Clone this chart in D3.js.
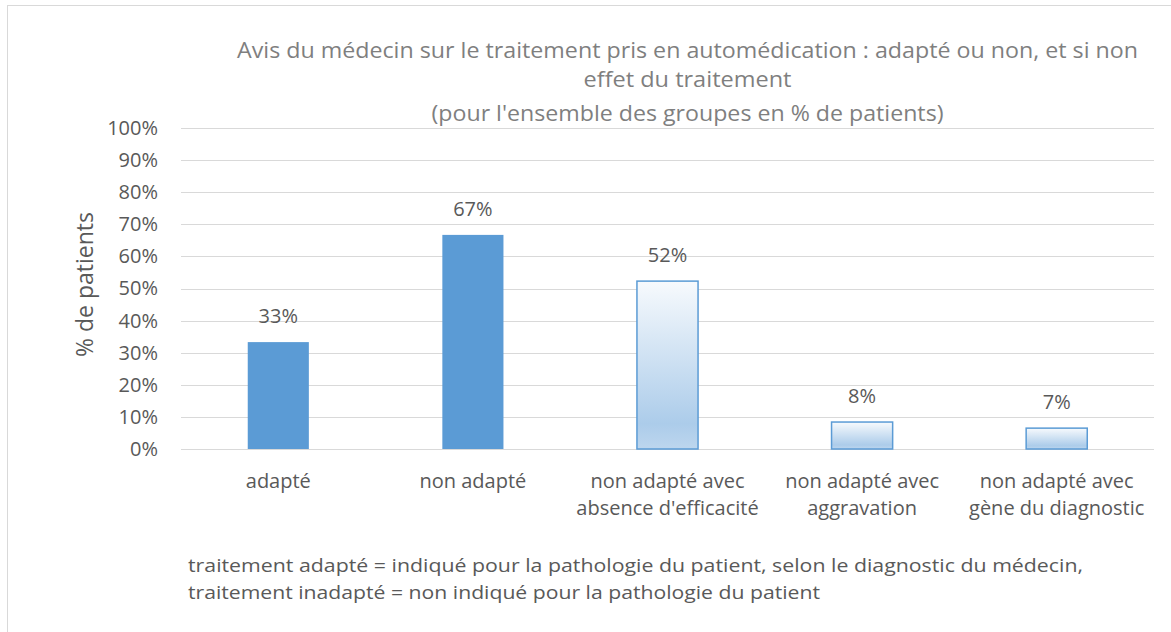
<!DOCTYPE html>
<html>
<head>
<meta charset="utf-8">
<script src="https://cdn.jsdelivr.net/npm/d3@7"></script>
<style>
  body { margin: 0; background: #fff; }
  text { font-family: "Open Sans", Lato, sans-serif; }
</style>
</head>
<body>
<svg id="chart" width="1171" height="632"></svg>
<script>
// data
const categories = [
  ["adapté"],
  ["non adapté"],
  ["non adapté avec", "absence d'efficacité"],
  ["non adapté avec", "aggravation"],
  ["non adapté avec", "gène du diagnostic"]
];
const values = [33.3, 66.7, 52.3, 8.4, 6.5];
const valueLabels = ["33%", "67%", "52%", "8%", "7%"];
const gradientBar = [false, false, true, true, true];
const yTicks = [0, 10, 20, 30, 40, 50, 60, 70, 80, 90, 100];
const titleLines = [
  "Avis du médecin sur le traitement pris en automédication : adapté ou non, et si non",
  "effet du traitement",
  "(pour l'ensemble des groupes en % de patients)"
];
const noteLines = [
  "traitement adapté = indiqué pour la pathologie du patient, selon le diagnostic du médecin,",
  "traitement inadapté = non indiqué pour la pathologie du patient"
];

const svg = d3.select("#chart");
const W = 1171, H = 632;
const margin = { top: 128, right: 17, bottom: 183, left: 181 };
const textColor = "#595959";

// outer frame
svg.append("rect")
  .attr("x", 7.5).attr("y", 5.5)
  .attr("width", W).attr("height", H)
  .attr("fill", "none").attr("stroke", "#d9d9d9");

const defs = svg.append("defs");
const grad = defs.append("linearGradient")
  .attr("id", "lightBlue")
  .attr("x1", 0).attr("y1", 0).attr("x2", 0).attr("y2", 1);
grad.append("stop").attr("offset", "0%").attr("stop-color", "#f7fafd");
grad.append("stop").attr("offset", "85%").attr("stop-color", "#acccea");
grad.append("stop").attr("offset", "100%").attr("stop-color", "#bdd6ee");

const x = d3.scaleBand()
  .domain(d3.range(categories.length))
  .range([margin.left, W - margin.right])
  .padding(0);

const y = d3.scaleLinear()
  .domain([0, 100])
  .range([H - margin.bottom, margin.top]);

// grid
svg.append("g")
  .selectAll("line")
  .data(yTicks)
  .join("line")
  .attr("x1", margin.left).attr("x2", W - margin.right)
  .attr("y1", d => Math.round(y(d)) + 0.5).attr("y2", d => Math.round(y(d)) + 0.5)
  .attr("stroke", "#d9d9d9").attr("stroke-width", 1);

// y axis labels
const yAxis = d3.axisLeft(y).tickValues(yTicks).tickFormat(d => d + "%").tickSize(0).tickPadding(23);
const gy = svg.append("g")
  .attr("transform", `translate(${margin.left},0)`)
  .call(yAxis);
gy.select(".domain").remove();
gy.selectAll("text")
  .attr("fill", textColor)
  .style("font-family", "'Open Sans', sans-serif")
  .style("font-size", "20px");

svg.append("text")
  .attr("transform", `translate(93,${y(50) - 4})rotate(-90)`)
  .attr("text-anchor", "middle")
  .attr("fill", textColor)
  .style("font-size", "23px")
  .text("% de patients");

// bars
const barW = x.bandwidth() * 0.314;
svg.append("g")
  .selectAll("rect")
  .data(values)
  .join("rect")
  .attr("x", (d, i) => x(i) + (x.bandwidth() - barW) / 2)
  .attr("y", d => y(d))
  .attr("width", barW)
  .attr("height", d => y(0) - y(d))
  .attr("fill", (d, i) => gradientBar[i] ? "url(#lightBlue)" : "#5b9bd5")
  .attr("stroke", (d, i) => gradientBar[i] ? "#5b9bd5" : "none")
  .attr("stroke-width", 1.5);

// value labels
svg.append("g")
  .selectAll("text")
  .data(values)
  .join("text")
  .attr("x", (d, i) => x(i) + x.bandwidth() / 2)
  .attr("y", d => y(d) - 19)
  .attr("text-anchor", "middle")
  .attr("fill", textColor)
  .style("font-size", "20px")
  .text((d, i) => valueLabels[i]);

// category labels
const cat = svg.append("g")
  .selectAll("text")
  .data(categories)
  .join("text")
  .attr("x", (d, i) => x(i) + x.bandwidth() / 2)
  .attr("y", 488)
  .attr("text-anchor", "middle")
  .attr("fill", textColor)
  .style("font-size", "20px");
cat.selectAll("tspan")
  .data(d => d)
  .join("tspan")
  .attr("x", function () { return this.parentNode.getAttribute("x"); })
  .attr("dy", (d, i) => i ? 27 : 0)
  .text(d => d);

// title
svg.append("g")
  .selectAll("text")
  .data(titleLines)
  .join("text")
  .attr("x", 687.5)
  .attr("y", (d, i) => [58, 87, 121][i])
  .attr("text-anchor", "middle")
  .attr("fill", "#7f7f7f")
  .style("font-size", "22px")
  .attr("textLength", (d, i) => [901, 208, 512][i])
  .attr("lengthAdjust", "spacingAndGlyphs")
  .text(d => d);

// footnote
svg.append("g")
  .selectAll("text")
  .data(noteLines)
  .join("text")
  .attr("x", 188)
  .attr("y", (d, i) => 572 + i * 27)
  .attr("fill", textColor)
  .style("font-size", "19px")
  .attr("textLength", (d, i) => [895, 632][i])
  .attr("lengthAdjust", "spacingAndGlyphs")
  .text(d => d);
</script>
</body>
</html>
